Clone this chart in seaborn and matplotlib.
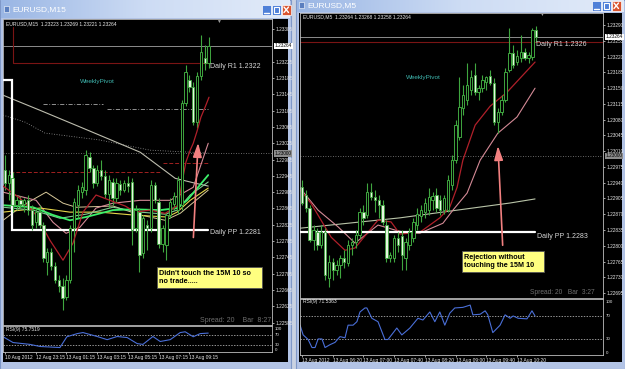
import matplotlib
matplotlib.use("Agg")
import matplotlib.pyplot as plt
import matplotlib.transforms as mtransforms
from matplotlib.colors import LinearSegmentedColormap
from matplotlib.patches import Rectangle
import numpy as np
import pandas as pd
import seaborn as sns

sns.set_theme(style="white")
plt.rcParams['font.family'] = ['Liberation Sans', 'DejaVu Sans']

# ---------------- data: left chart (EURUSD M15) ----------------
l_open = [1.22959,1.22927,1.22939,1.22873,1.22885,1.22876,1.22885,1.22861,1.22831,1.22856,
          1.22824,1.22733,1.22758,1.22723,1.22689,1.22674,1.22647,1.22689,1.22817,1.22873,
          1.22905,1.22910,1.22991,1.22964,1.22927,1.22959,1.22944,1.22900,1.22930,1.22890,
          1.22925,1.22910,1.22927,1.22930,1.22817,1.22856,1.22755,1.22824,1.22817,1.22922,
          1.22880,1.22777,1.22775,1.22849,1.22876,1.22861,1.22873,1.23123,1.23180,1.23163,
          1.23077,1.23190,1.23234,1.23222]
l_high = [1.22996,1.22959,1.22954,1.22898,1.22895,1.22890,1.22898,1.22873,1.22866,1.22873,
          1.22831,1.22768,1.22768,1.22733,1.22701,1.22694,1.22701,1.22824,1.22890,1.22922,
          1.22930,1.23008,1.23003,1.22971,1.22971,1.22984,1.22959,1.22947,1.22939,1.22939,
          1.22934,1.22934,1.22944,1.22939,1.22873,1.22866,1.22849,1.22836,1.22934,1.22930,
          1.22890,1.22824,1.22856,1.22890,1.22905,1.22944,1.23131,1.23217,1.23192,1.23175,
          1.23199,1.23290,1.23266,1.23285]
l_low = [1.22910,1.22885,1.22856,1.22861,1.22866,1.22856,1.22849,1.22812,1.22817,1.22817,
         1.22733,1.22701,1.22714,1.22682,1.22660,1.22615,1.22640,1.22682,1.22758,1.22841,
         1.22890,1.22898,1.22954,1.22915,1.22920,1.22934,1.22890,1.22866,1.22873,1.22880,
         1.22898,1.22905,1.22905,1.22775,1.22807,1.22709,1.22743,1.22763,1.22807,1.22878,
         1.22768,1.22758,1.22738,1.22841,1.22861,1.22851,1.22861,1.23116,1.23150,1.23069,
         1.23062,1.23180,1.23204,1.23209]
l_close = [1.22927,1.22947,1.22873,1.22885,1.22876,1.22885,1.22861,1.22824,1.22856,1.22824,
           1.22743,1.22758,1.22723,1.22689,1.22674,1.22645,1.22689,1.22817,1.22880,1.22910,
           1.22917,1.22996,1.22964,1.22927,1.22959,1.22944,1.22900,1.22934,1.22890,1.22927,
           1.22910,1.22927,1.22920,1.22812,1.22861,1.22750,1.22841,1.22817,1.22922,1.22885,
           1.22777,1.22817,1.22849,1.22880,1.22895,1.22934,1.23123,1.23199,1.23163,1.23077,
           1.23190,1.23249,1.23222,1.23264]

# moving averages (bar index, price)
l_ema_x = [-0.5,3.9,8.1,11.7,15.1,17.7,20.3,23.7,27.3,31.3,33.9,37.8,41.7,45.1,46.1,47.1,48.2,49.0,50.0,51.0,52.1,53.1]
l_ema_y = [1.22920,1.22890,1.22849,1.22787,1.22738,1.22780,1.22856,1.22898,1.22885,1.22871,1.22856,1.22861,1.22853,1.22873,1.22930,1.22979,1.23008,1.23025,1.23055,1.23089,1.23114,1.23138]
l_grn_x = [-0.5,7.3,12.5,16.9,21.1,28.1,33.3,40.4,44.8,47.4,52.9]
l_grn_y = [1.22873,1.22868,1.22849,1.22836,1.22844,1.22861,1.22863,1.22861,1.22866,1.22885,1.22947]
l_teal_x = [-0.5,7.3,14.3,21.1,28.1,35.2,41.7,44.8,48.2,52.9]
l_teal_y = [1.22868,1.22861,1.22841,1.22851,1.22868,1.22856,1.22851,1.22861,1.22898,1.22930]
l_yel_x = [-0.5,9.1,16.9,24.7,33.3,42.2,44.8,48.2,52.9]
l_yel_y = [1.22856,1.22866,1.22856,1.22856,1.22849,1.22844,1.22856,1.22885,1.22915]
l_tan_x = [-0.5,4.7,10.7,15.1,18.5,28.1,35.2,41.7,45.6,52.9]
l_tan_y = [1.22836,1.22873,1.22905,1.22878,1.22868,1.22871,1.22849,1.22836,1.22853,1.22910]
l_pink_x = [-0.5,8.1,12.5,15.9,19.5,23.7,28.1,35.2,43.0,49.0,52.9]
l_pink_y = [1.22905,1.22885,1.22831,1.22804,1.22819,1.22866,1.22878,1.22885,1.22885,1.22917,1.23025]
l_gray_x = [-0.5,9.1,20.3,35.2,44.3,49.5,52.9]
l_gray_y = [1.23143,1.23106,1.23062,1.23003,1.22939,1.22927,1.22920]
l_dot_x = [-0.5,5.2,10.4,24.7,37.8,52.9]
l_dot_y = [1.23094,1.23077,1.23050,1.23033,1.23008,1.23001]
l_dashdot = [(9.9, 25.5, 1.23121), (26.6, 52.9, 1.23109)]
l_reddash = [(1.3, 40.4, 1.22954), (41.1, 52.9, 1.22976)]
l_rsi_x = [-0.5,2.1,6.5,9.1,14.3,16.1,18.8,20.3,24.0,26.6,29.2,31.8,34.4,35.9,38.5,40.4,43.0,45.6,46.9,49.0,50.8,52.9]
l_rsi_v = [62,40,33,25,21,62,74,78,63,51,63,59,36,33,63,44,51,78,81,62,74,76]
l_r1, l_r1_prev, l_pp, l_pp_prev, l_daybreak = 1.23222, 1.23310, 1.22812, 1.23180, 1.8
l_ticks = [round(1.22585 + 0.0004 * k, 5) for k in range(19)]
l_dates = ["10 Aug 2012", "12 Aug 23:15", "13 Aug 01:15", "13 Aug 03:15",
           "13 Aug 05:15", "13 Aug 07:15", "13 Aug 09:15"]
l_date_bars = [0, 8, 16, 24, 32, 40, 48]

# ---------------- data: right chart (EURUSD M5) ----------------
r_open = [1.22930,1.22913,1.22884,1.22813,1.22830,1.22802,1.22830,1.22728,1.22764,1.22746,
          1.22757,1.22773,1.22762,1.22802,1.22808,1.22824,1.22875,1.22868,1.22919,1.22908,
          1.22901,1.22890,1.22846,1.22773,1.22773,1.22817,1.22822,1.22773,1.22802,1.22817,
          1.22846,1.22866,1.22875,1.22879,1.22901,1.22913,1.22901,1.22879,1.22879,1.22935,
          1.22990,1.23041,1.23106,1.23123,1.23146,1.23179,1.23141,1.23150,1.23163,1.23177,
          1.23161,1.23075,1.23097,1.23123,1.23190,1.23228,1.23208,1.23217,1.23230,1.23217,
          1.23219,1.23279]
r_high = [1.22946,1.22924,1.22890,1.22846,1.22839,1.22846,1.22839,1.22779,1.22773,1.22768,
          1.22779,1.22790,1.22813,1.22817,1.22835,1.22884,1.22890,1.22939,1.22939,1.22924,
          1.22913,1.22901,1.22857,1.22786,1.22824,1.22830,1.22835,1.22817,1.22839,1.22862,
          1.22884,1.22890,1.22906,1.22928,1.22919,1.22928,1.22913,1.22913,1.22957,1.23001,
          1.23079,1.23175,1.23157,1.23206,1.23190,1.23206,1.23157,1.23179,1.23177,1.23190,
          1.23172,1.23106,1.23135,1.23195,1.23283,1.23246,1.23234,1.23268,1.23239,1.23230,
          1.23283,1.23288]
r_low = [1.22890,1.22875,1.22808,1.22790,1.22790,1.22795,1.22724,1.22708,1.22724,1.22735,
         1.22728,1.22751,1.22755,1.22779,1.22795,1.22817,1.22846,1.22862,1.22901,1.22875,
         1.22862,1.22846,1.22764,1.22764,1.22764,1.22786,1.22746,1.22746,1.22790,1.22808,
         1.22835,1.22853,1.22862,1.22868,1.22879,1.22875,1.22868,1.22870,1.22875,1.22924,
         1.22984,1.23035,1.23090,1.23112,1.23135,1.23135,1.23123,1.23141,1.23146,1.23157,
         1.23068,1.23050,1.23090,1.23119,1.23186,1.23195,1.23201,1.23208,1.23212,1.23206,
         1.23212,1.23252]
r_close = [1.22895,1.22884,1.22813,1.22835,1.22802,1.22830,1.22735,1.22764,1.22746,1.22757,
           1.22773,1.22764,1.22802,1.22808,1.22824,1.22875,1.22862,1.22919,1.22908,1.22901,
           1.22890,1.22853,1.22773,1.22779,1.22817,1.22802,1.22779,1.22808,1.22830,1.22853,
           1.22870,1.22879,1.22895,1.22908,1.22910,1.22884,1.22879,1.22906,1.22946,1.22990,
           1.23068,1.23108,1.23135,1.23157,1.23175,1.23141,1.23150,1.23168,1.23175,1.23161,
           1.23075,1.23097,1.23123,1.23186,1.23228,1.23201,1.23221,1.23230,1.23217,1.23223,
           1.23279,1.23264]
r_red_x = [-0.5,2.3,7.6,11.2,13.8,19.8,23.2,25.5,30.7,35.9,38.5,40.4,41.9,45.1,49.0,53.4,60.7]
r_red_y = [1.22924,1.22895,1.22819,1.22790,1.22795,1.22857,1.22853,1.22826,1.22830,1.22862,1.22886,1.22930,1.22990,1.23068,1.23110,1.23141,1.23208]
r_pink_x = [-0.5,4.2,9.4,13.8,19.8,24.2,27.6,30.7,36.7,39.3,43.0,46.4,51.0,56.0,60.7]
r_pink_y = [1.22928,1.22879,1.22842,1.22806,1.22846,1.22835,1.22828,1.22828,1.22850,1.22879,1.22917,1.22990,1.23050,1.23086,1.23150]
r_slow_x = [-0.5,25.5,54.2,60.7]
r_slow_y = [1.22839,1.22862,1.22895,1.22904]
r_rsi_x = [-0.5,0.3,1.6,2.6,3.4,4.2,5.2,6.0,7.3,8.6,9.9,11.2,12.0,13.3,14.3,15.1,16.4,16.9,18.2,19.8,
           21.6,22.4,24.7,26.0,28.1,30.2,31.5,33.3,34.6,35.9,37.2,38.5,39.8,41.9,43.8,44.5,46.4,47.7,
           48.4,49.7,51.6,52.9,54.2,55.0,56.3,58.6,59.9,60.7]
r_rsi_v = [54,37,29,15,15,30,30,15,20,24,34,32,54,54,60,77,84,84,66,60,
           29,29,49,37,49,66,63,77,60,77,54,75,84,85,89,72,73,79,
           72,41,54,72,66,70,66,65,79,70]
r_r1, r_pp = 1.23252, 1.22830
r_ticks = [round(1.22695 + 0.00035 * k, 5) for k in range(18)]
r_dates = ["13 Aug 2012", "13 Aug 06:20", "13 Aug 07:00", "13 Aug 07:40",
           "13 Aug 08:20", "13 Aug 09:00", "13 Aug 09:40", "13 Aug 10:20"]
r_date_bars = [0, 8, 16, 24, 32, 40, 48, 56]

current_price = 1.23264
round_level = 1.23000

# ---------------- figure ----------------
W, H = 625, 369
fig = plt.figure(figsize=(W / 100, H / 100), dpi=100)
fig.patch.set_facecolor('#c9d2e2')


def px_axes(x0, y0, x1, y1, z=1):
    return fig.add_axes([x0 / W, 1 - y1 / H, (x1 - x0) / W, (y1 - y0) / H], zorder=z)


bg = px_axes(0, 0, W, H, z=0)
bg.set_xlim(0, W); bg.set_ylim(H, 0); bg.axis('off')
title_cmap = LinearSegmentedColormap.from_list('t', ['#9ab6e4', '#cddcf4', '#e2ebf9'])
grad = np.linspace(0, 1, 256).reshape(1, -1)

for (x0, x1, ty, chart_top) in [(0, 291, 18, 19), (296, 625, 12, 13)]:
    bg.add_patch(Rectangle((x0, 0), x1 - x0, H, fc='#b3c4e6', ec='#7f98c8', lw=0.8))
    bg.imshow(grad, extent=(x0 + 1, x1 - 1, ty, 0), cmap=title_cmap, aspect='auto', zorder=1)
    bg.add_patch(Rectangle((x0 + 3, chart_top), (x1 - x0) - 6, 362 - chart_top, fc='black', ec='none', zorder=2))

bg.set_xlim(0, W); bg.set_ylim(H, 0)

# window buttons
for bx, by in [(262, 5), (272, 5), (282, 5), (592, 1), (602, 1), (612, 1)]:
    col = '#d9542f' if bx in (282, 612) else '#4f80d8'
    bg.add_patch(Rectangle((bx, by), 8.5, 9.5, fc=col, ec='white', lw=0.5, zorder=3))
for bx, by in [(262, 5), (592, 1)]:
    bg.plot([bx + 2, bx + 6.5], [by + 7.5, by + 7.5], color='white', lw=1.0, zorder=4)
for bx, by in [(272, 5), (602, 1)]:
    bg.add_patch(Rectangle((bx + 2, by + 2), 4.5, 5.5, fc='none', ec='white', lw=0.8, zorder=4))
for bx, by in [(282, 5), (612, 1)]:
    bg.plot([bx + 2, bx + 6.5], [by + 2, by + 7.5], color='white', lw=1.0, zorder=4)
    bg.plot([bx + 2, bx + 6.5], [by + 7.5, by + 2], color='white', lw=1.0, zorder=4)
bg.text(12, 9.5, 'EURUSD,M15', fontsize=6.0, color='white', va='center', ha='left', zorder=5)
bg.text(307, 6, 'EURUSD,M5', fontsize=6.0, color='white', va='center', ha='left', zorder=5)
bg.add_patch(Rectangle((4, 6), 5, 6, fc='#5b7fbf', ec='white', lw=0.4, zorder=5))
bg.add_patch(Rectangle((299, 2), 5, 6, fc='#5b7fbf', ec='white', lw=0.4, zorder=5))

GREEN = '#3fa63f'
BEAR = '#e6f7e0'
TXT = '#e8e8e8'
FS = 3.4


def style(ax):
    ax.set_facecolor('black')
    for s in ax.spines.values():
        s.set_color('#bdbdbd'); s.set_linewidth(0.6)
    ax.yaxis.tick_right()
    ax.tick_params(axis='both', colors=TXT, labelsize=FS, length=1.5, width=0.5, pad=1.2,
                   left=False, right=True, bottom=False, top=False)
    ax.grid(False)


def candles(ax, o, h, l, c, width=0.62):
    o, h, l, c = map(np.asarray, (o, h, l, c))
    x = np.arange(len(o))
    ax.vlines(x, l, h, color=GREEN, lw=0.8, zorder=3)
    up = c >= o
    ax.bar(x[up], np.maximum((c - o)[up], 0.00002), bottom=o[up], width=width,
           color='black', edgecolor=GREEN, lw=0.7, zorder=4)
    ax.bar(x[~up], np.maximum((o - c)[~up], 0.00002), bottom=c[~up], width=width,
           color=BEAR, edgecolor=GREEN, lw=0.6, zorder=4)


def sline(ax, xs, ys, color, lw=0.8, z=2.5):
    sns.lineplot(x=xs, y=ys, ax=ax, color=color, lw=lw, sort=False, estimator=None,
                 legend=False, zorder=z)


def tag(ax, y, txt, fc, tc):
    tr = mtransforms.blended_transform_factory(ax.transAxes, ax.transData)
    ax.text(1.01, y, txt, transform=tr, fontsize=FS, color=tc, va='center', ha='left',
            bbox=dict(boxstyle='square,pad=0.12', fc=fc, ec='none'), clip_on=False, zorder=20)


ARROW = dict(arrowstyle='-|>,head_length=0.7,head_width=0.22', color='#f28080', lw=1.2)

# ---------------- left main ----------------
axL = px_axes(3, 19, 272, 325, z=2)
style(axL)
axL.set_xlim(-0.52, 69.5)
axL.set_ylim(1.22579, 1.23330)
axL.axhline(round_level, color='#8a8a8a', lw=0.6, ls=(0, (1, 2)), zorder=1)
axL.axhline(current_price, color='#8c8c8c', lw=0.7, zorder=1)
sline(axL, l_dot_x, l_dot_y, '#9a9a9a', lw=0.6)
axL.lines[-1].set_linestyle((0, (1, 2)))
for x0, x1, y in l_dashdot:
    axL.plot([x0, x1], [y, y], color='#a8a8a8', lw=0.6, ls=(0, (5, 2, 1, 2)), zorder=2)
for x0, x1, y in l_reddash:
    axL.plot([x0, x1], [y, y], color='#a02020', lw=0.7, ls=(0, (4, 2)), zorder=2)
sline(axL, l_gray_x, l_gray_y, '#bdbdae', lw=0.8)
sline(axL, l_tan_x, l_tan_y, '#d8c99a', lw=0.7)
sline(axL, l_pink_x, l_pink_y, '#d48a96', lw=0.8)
sline(axL, l_yel_x, l_yel_y, '#e6d64a', lw=0.8)
sline(axL, l_teal_x, l_teal_y, '#7fc98f', lw=0.8)
sline(axL, l_grn_x, l_grn_y, '#3cf06a', lw=1.3)
sline(axL, l_ema_x, l_ema_y, '#b0202a', lw=0.9, z=3.5)
axL.plot([-0.5, l_daybreak, l_daybreak, 52.9], [l_pp_prev, l_pp_prev, l_pp, l_pp],
         color='white', lw=1.6, zorder=2.8, solid_joinstyle='miter')
axL.plot([l_daybreak + 0.3, l_daybreak + 0.3, 52.9], [l_r1_prev, l_r1, l_r1],
         color='#7a1414', lw=0.8, zorder=2.2)
candles(axL, l_open, l_high, l_low, l_close)
l_shown = [v for v in l_ticks if abs(v - current_price) > 0.00005]
axL.set_yticks(l_shown)
axL.set_yticklabels([f'{v:.5f}' for v in l_shown])
axL.set_xticks([])
tag(axL, current_price, '1.23264', 'white', 'black')
tag(axL, round_level, '1.23000', '#8c8c8c', 'black')
axL.annotate('', xy=(50.3, 1.23033), xytext=(49.0, 1.22787), arrowprops=ARROW, zorder=6)

# ---------------- left RSI ----------------
axLr = px_axes(3, 326, 272, 352, z=2)
style(axLr)
axLr.set_xlim(-0.52, 69.5)
axLr.set_ylim(4, 103)
for lv in (30, 70):
    axLr.axhline(lv, color='#d0d0d0', lw=0.5, ls=(0, (2, 2)))
sline(axLr, l_rsi_x, l_rsi_v, '#4a6fd8', lw=0.8)
axLr.set_yticks([])
axLr.set_xticks(l_date_bars)
axLr.set_xticklabels(l_dates, ha='left')
axLr.tick_params(axis='x', bottom=True, length=1.5, pad=0.8, labelsize=3.5)

# ---------------- right main ----------------
axR = px_axes(300, 13, 603, 298, z=2)
style(axR)
axR.set_xlim(-0.52, 78.4)
axR.set_ylim(1.22684, 1.23317)
axR.axhline(round_level, color='#8a8a8a', lw=0.6, ls=(0, (1, 2)), zorder=1)
axR.axhline(current_price, color='#8c8c8c', lw=0.7, zorder=1)
axR.axhline(r_r1, color='#7a1414', lw=0.8, zorder=1.5)
sline(axR, r_slow_x, r_slow_y, '#b9c4a8', lw=0.8)
sline(axR, r_pink_x, r_pink_y, '#d48a96', lw=0.8)
sline(axR, r_red_x, r_red_y, '#b0202a', lw=0.9)
axR.plot([-0.5, 60.7], [r_pp, r_pp], color='white', lw=1.6, zorder=2.8)
candles(axR, r_open, r_high, r_low, r_close)
axR.set_yticks(r_ticks)
axR.set_yticklabels([f'{v:.5f}' for v in r_ticks])
axR.set_xticks([])
tag(axR, current_price, '1.23264', 'white', 'black')
tag(axR, round_level, '1.23000', '#8c8c8c', 'black')
axR.annotate('', xy=(51.0, 1.23028), xytext=(52.3, 1.22795), arrowprops=ARROW, zorder=6)

# ---------------- right RSI ----------------
axRr = px_axes(300, 299, 603, 355, z=2)
style(axRr)
axRr.set_xlim(-0.52, 78.4)
axRr.set_ylim(2, 99.6)
for lv in (30, 70):
    axRr.axhline(lv, color='#d0d0d0', lw=0.5, ls=(0, (2, 2)))
sline(axRr, r_rsi_x, r_rsi_v, '#4a6fd8', lw=0.8)
axRr.set_yticks([])
axRr.set_xticks(r_date_bars)
axRr.set_xticklabels(r_dates, ha='left')
axRr.tick_params(axis='x', bottom=True, length=1.5, pad=0.8, labelsize=3.5)

# ---------------- overlay texts (pixel coordinates) ----------------
ov = px_axes(0, 0, W, H, z=10)
ov.set_xlim(0, W); ov.set_ylim(H, 0); ov.axis('off')
ov.patch.set_alpha(0)


def t(x, y, s, **kw):
    d = dict(fontsize=FS, color=TXT, va='center', ha='left')
    d.update(kw)
    ov.text(x, y, s, **d)


t(6, 24, 'EURUSD,M15  1.23223 1.23269 1.23221 1.23264', fontsize=3.6)
t(303, 17, 'EURUSD,M5  1.23264 1.23268 1.23258 1.23264', fontsize=3.6)
t(210, 67, 'Daily R1 1.2322', fontsize=5.0, color='#d8d8d8')
t(210, 233, 'Daily PP 1.2281', fontsize=5.0, color='#d8d8d8')
t(536, 45, 'Daily R1 1.2326', fontsize=5.0, color='#d8d8d8')
t(537, 236, 'Daily PP 1.2283', fontsize=5.0, color='#d8d8d8')
t(80, 82, 'WeeklyPivot', fontsize=4.6, color='#3fb8b0')
t(406, 78, 'WeeklyPivot', fontsize=4.6, color='#3fb8b0')
t(200, 320, 'Spread: 20    Bar  8:27', fontsize=5.0, color='#6e6e6e')
t(530, 293, 'Spread: 20   Bar  3:27', fontsize=4.8, color='#6e6e6e')
t(218, 21, '\u25bc', fontsize=3.5, color='#a0a0a0', ha='center')
t(541, 14, '\u25bc', fontsize=3.5, color='#a0a0a0', ha='center')
t(6, 330, 'RSI(9) 75.7519', fontsize=3.6)
t(303, 302, 'RSI(9) 71.5363', fontsize=3.6)
for (x, y, s) in [(275, 328.5, '100'), (275, 334.5, '70'), (275, 345, '30'), (275, 350, '0'),
                  (606, 302, '100'), (606, 316, '70'), (606, 339, '30'), (606, 353, '0')]:
    t(x, y, s, fontsize=3.2)

ov.add_patch(Rectangle((157, 267), 105, 21, fc='#ffff80', ec='#555555', lw=0.6))
t(159, 277.5, "Didn't touch the 15M 10 so\nno trade.....", fontsize=5.2, color='black',
  fontweight='bold', linespacing=1.2)
ov.add_patch(Rectangle((462, 251), 82, 21, fc='#ffff80', ec='#555555', lw=0.6))
t(464, 261.5, "Rejection without\ntouching the 15M 10", fontsize=5.2, color='black',
  fontweight='bold', linespacing=1.2)

fig.savefig('out.png', dpi=100, facecolor=fig.get_facecolor())
